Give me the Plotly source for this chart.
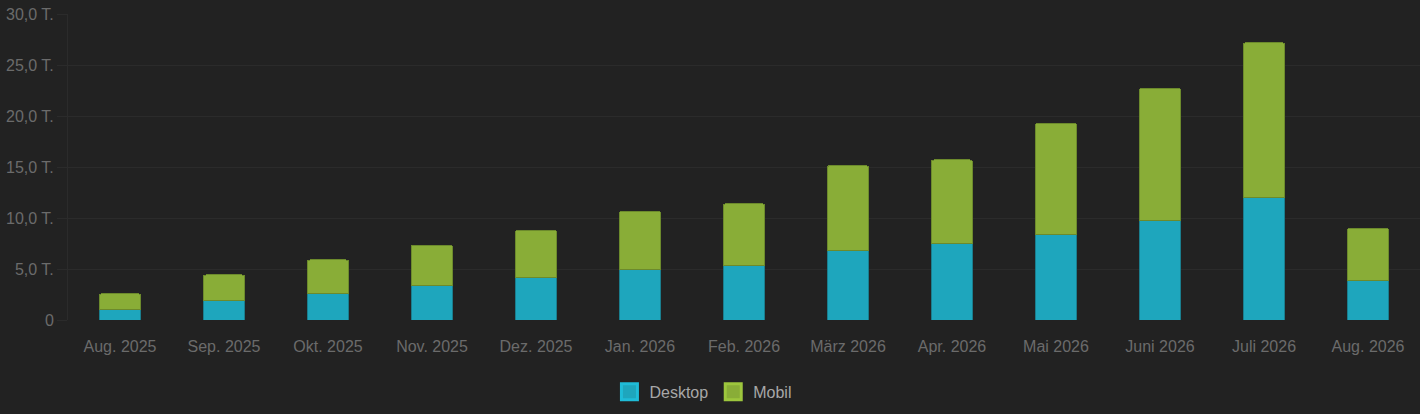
import plotly.graph_objects as go

months = ["Aug. 2025", "Sep. 2025", "Okt. 2025", "Nov. 2025", "Dez. 2025", "Jan. 2026",
          "Feb. 2026", "März 2026", "Apr. 2026", "Mai 2026", "Juni 2026", "Juli 2026", "Aug. 2026"]

# Tausend Sitzungen
desktop = [1.01, 1.90, 2.61, 3.35, 4.13, 4.95, 5.37, 6.80, 7.49, 8.37, 9.77, 12.04, 3.91]
gesamt = [2.57, 4.42, 5.89, 7.35, 8.79, 10.67, 11.40, 15.14, 15.69, 19.30, 22.72, 27.18, 9.01]
mobil = [round(g - d, 2) for g, d in zip(gesamt, desktop)]

y_ticks = [0, 5, 10, 15, 20, 25, 30]
y_labels = ["0", "5,0 T.", "10,0 T.", "15,0 T.", "20,0 T.", "25,0 T.", "30,0 T."]

bg = "#222222"
grid = "#2b2b2b"

serien = [
    ("Desktop", desktop, "#1ea6bd", "#1a7e8e", "#1fbcd8"),
    ("Mobil", mobil, "#89ad37", "#6c8a2c", "#9dc63d"),
]

fig = go.Figure()

for name, vals, fill, edge, bright in serien:
    fig.add_trace(go.Bar(
        x=months, y=vals, name=name, showlegend=False,
        marker=dict(color=fill, line=dict(color=edge, width=1)),
    ))
    # nur fuer die Legende (groesseres Symbol mit Rand)
    fig.add_trace(go.Scatter(
        x=[months[0]], y=[None], name=name, mode="markers",
        marker=dict(symbol="square", size=16, color=fill,
                    line=dict(color=bright, width=3)),
        hoverinfo="skip",
    ))

fig.update_layout(
    barmode="stack",
    bargap=0.6,
    barcornerradius=3,
    width=1420, height=414,
    paper_bgcolor=bg, plot_bgcolor=bg,
    font=dict(family="Liberation Sans, Arial, sans-serif", color="#6b6b6b"),
    margin=dict(l=68, r=0, t=14, b=94),
    legend=dict(
        orientation="h", traceorder="normal",
        x=0.47, xanchor="center", y=-0.235, yanchor="middle",
        font=dict(size=16, color="#a8a8a8"),
        bgcolor="rgba(0,0,0,0)",
    ),
)

fig.update_xaxes(
    range=[-0.5, len(months) - 0.5],
    showgrid=False, zeroline=False, showline=False,
    ticks="outside", ticklen=12, tickcolor=bg,
    tickfont=dict(size=16, color="#6b6b6b"),
)
fig.update_yaxes(
    range=[0, 30], tickvals=y_ticks, ticktext=y_labels,
    showgrid=True, gridcolor=grid, gridwidth=1, zeroline=False,
    showline=True, linecolor=grid, linewidth=1,
    ticks="outside", ticklen=10, tickcolor=grid,
    tickfont=dict(size=16, color="#6b6b6b"),
)

fig.write_html(
    "out.html",
    config={"displayModeBar": False},
    post_script="document.body.style.margin='0';document.body.style.background='#222222';",
)
